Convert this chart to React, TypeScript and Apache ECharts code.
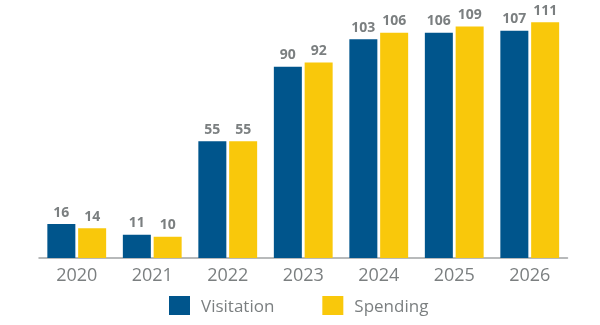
import React, { useEffect, useRef } from "react";
import * as echarts from "echarts";

const categories = ["2020", "2021", "2022", "2023", "2024", "2025", "2026"];
const visitation = [16, 11, 55, 90, 103, 106, 107];
const spending = [14, 10, 55, 92, 106, 109, 111];

const FONT = "'Open Sans', sans-serif";
const GRAY = "#7b7f80";

export default function App() {
  const ref = useRef<HTMLDivElement>(null);
  useEffect(() => {
    const chart = echarts.init(ref.current!, null, { renderer: "svg" });
    const label = {
      show: true,
      position: "top",
      distance: 6,
      color: GRAY,
      fontFamily: FONT,
      fontWeight: "bold",
      fontSize: 14,
    };
    chart.setOption({
      animation: false,
      grid: { left: 39, right: 32.5, top: 3, bottom: 67 },
      legend: {
        left: 164,
        top: 291,
        itemWidth: 21,
        itemHeight: 19,
        itemGap: 48,
        icon: "rect",
        textStyle: { color: GRAY, fontFamily: FONT, fontSize: 17, padding: [0, 0, 0, 6] },
        data: ["Visitation", "Spending"],
      },
      xAxis: {
        type: "category",
        data: categories,
        axisLine: { lineStyle: { color: "#a0a3a4", width: 1.5 } },
        axisTick: { show: false },
        axisLabel: { color: GRAY, fontFamily: FONT, fontSize: 18, margin: 7 },
      },
      yAxis: {
        type: "value",
        min: 0,
        max: 120,
        show: false,
        splitLine: { show: false },
      },
      series: [
        {
          name: "Visitation",
          type: "bar",
          data: visitation,
          barWidth: 28,
          barGap: "10%",
          itemStyle: { color: "#00558c" },
          label,
        },
        {
          name: "Spending",
          type: "bar",
          data: spending,
          barWidth: 28,
          barGap: "10%",
          itemStyle: { color: "#f9c80b" },
          label,
        },
      ],
    });
    return () => chart.dispose();
  }, []);
  return <div ref={ref} style={{ width: 600, height: 325, position: "fixed", left: 0, top: 0 }} />;
}
